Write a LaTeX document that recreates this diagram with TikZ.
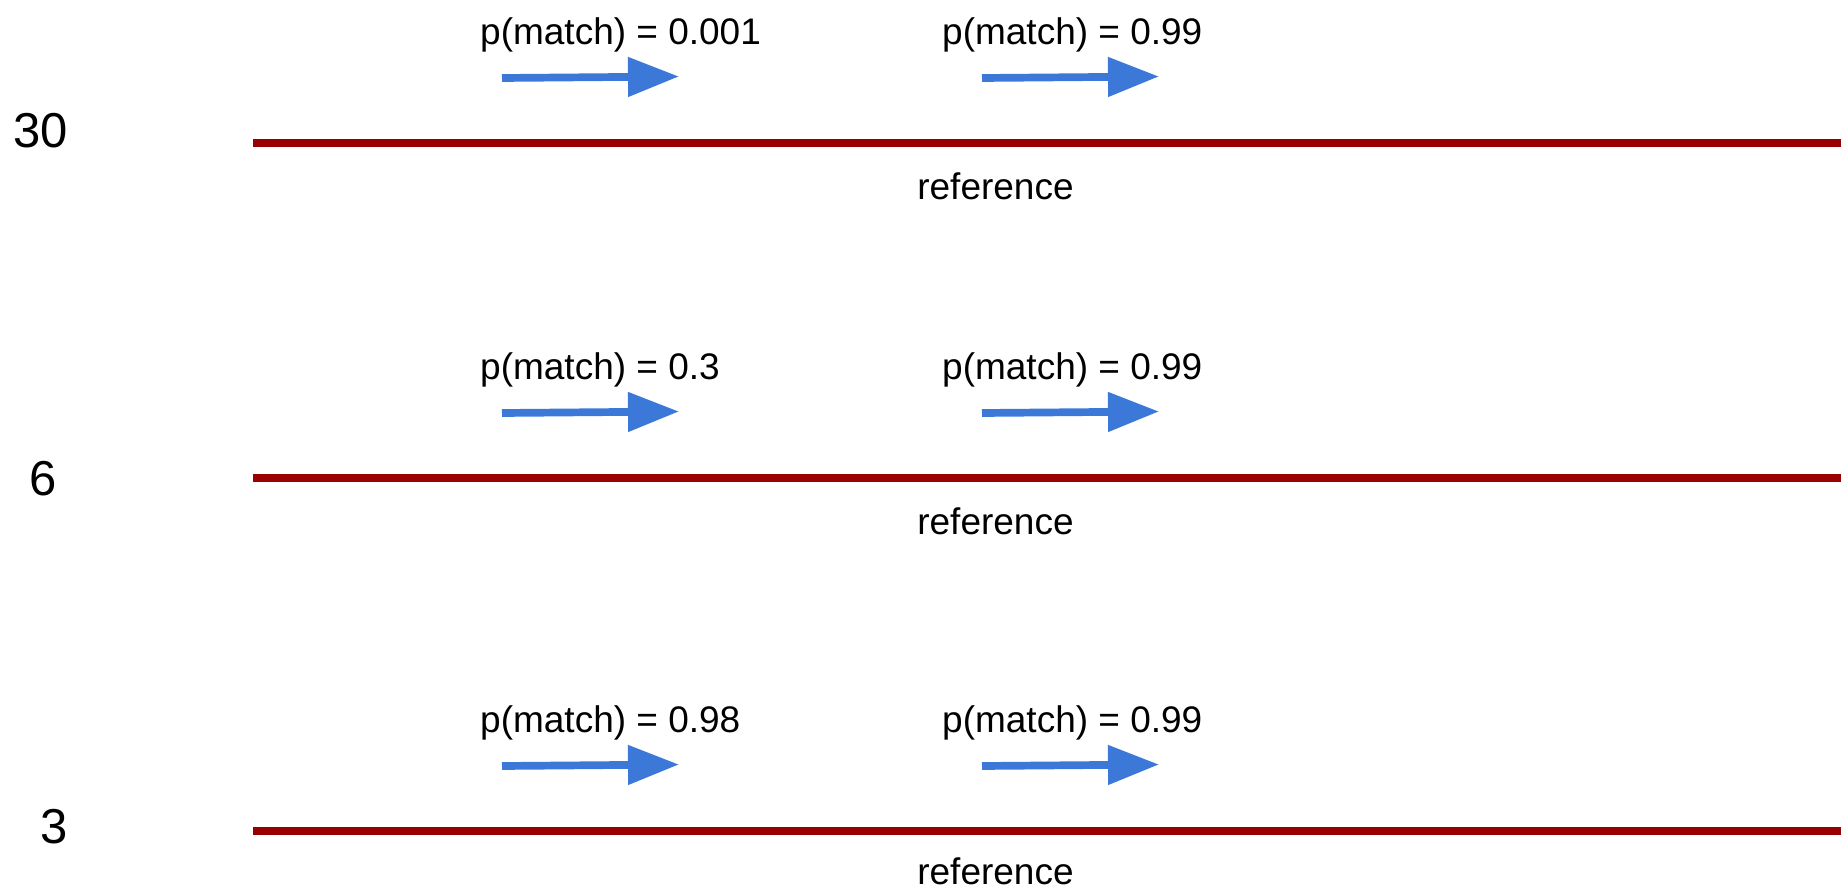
\documentclass[tikz,border=0pt]{standalone}
\usepackage{fontspec}
\setmainfont{Liberation Sans}
\usetikzlibrary{arrows.meta}
\definecolor{refred}{HTML}{990000}
\definecolor{arrblue}{HTML}{3C78D8}
\begin{document}
\begin{tikzpicture}[x=1pt,y=-1pt,
  reftrack/.style={draw=refred,line width=8pt},
  matcharrow/.style={draw=arrblue,line width=7.7pt,-{Triangle[length=51pt,width=38pt]}},
  plabel/.style={anchor=base west,inner sep=0pt,font=\fontsize{37}{41}\selectfont},
  reflabel/.style={anchor=base,inner sep=0pt,font=\fontsize{37}{41}\selectfont},
  numlabel/.style={anchor=center,inner sep=0pt,font=\fontsize{49}{54}\selectfont}]
\useasboundingbox (0,0) rectangle (1845,889);
% row 1
\node[numlabel] (n30) at (40.5,131) {30};
\coordinate (l1a) at (253,142.7);
\coordinate (l1b) at (1841,142.7);
\draw[reftrack] (l1a) -- (l1b);
\node[reflabel] (r1) at (995.5,199.5) {reference};
\node[plabel] (p1a) at (480,44) {p(match) = 0.001};
\node[plabel] (p1b) at (942,44) {p(match) = 0.99};
\coordinate (a1s) at (502,78);
\coordinate (a1e) at (679,76.5);
\coordinate (b1s) at (982,78);
\coordinate (b1e) at (1159,76.5);
\draw[matcharrow] (a1s) -- (a1e);
\draw[matcharrow] (b1s) -- (b1e);
% row 2
\node[numlabel] (n6) at (43.3,479) {6};
\coordinate (l2a) at (253,478.3);
\coordinate (l2b) at (1841,478.3);
\draw[reftrack] (l2a) -- (l2b);
\node[reflabel] (r2) at (995.5,534.5) {reference};
\node[plabel] (p2a) at (480,379) {p(match) = 0.3};
\node[plabel] (p2b) at (942,379) {p(match) = 0.99};
\coordinate (a2s) at (502,413);
\coordinate (a2e) at (679,411.5);
\coordinate (b2s) at (982,413);
\coordinate (b2e) at (1159,411.5);
\draw[matcharrow] (a2s) -- (a2e);
\draw[matcharrow] (b2s) -- (b2e);
% row 3
\node[numlabel] (n3) at (54,826.5) {3};
\coordinate (l3a) at (253,830.5);
\coordinate (l3b) at (1841,830.5);
\draw[reftrack] (l3a) -- (l3b);
\node[reflabel] (r3) at (995.5,884) {reference};
\node[plabel] (p3a) at (480,732) {p(match) = 0.98};
\node[plabel] (p3b) at (942,732) {p(match) = 0.99};
\coordinate (a3s) at (502,766);
\coordinate (a3e) at (679,764.5);
\coordinate (b3s) at (982,766);
\coordinate (b3e) at (1159,764.5);
\draw[matcharrow] (a3s) -- (a3e);
\draw[matcharrow] (b3s) -- (b3e);
\end{tikzpicture}
\end{document}
